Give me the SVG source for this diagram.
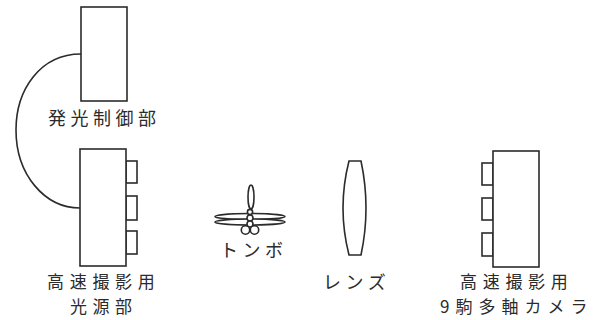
<svg xmlns="http://www.w3.org/2000/svg" width="601" height="320" viewBox="0 0 601 320">
  <style>
    .ln { fill: none; stroke: #2b2b2b; stroke-width: 1.6; }
    .bx { fill: #ffffff; stroke: #2b2b2b; stroke-width: 1.6; }
    .lb { font-family: "Noto Sans CJK JP", "Noto Sans", sans-serif; font-size: 18px; fill: #2b2b2b; letter-spacing: 4.5px; }
    .lb2 { font-family: "Noto Sans CJK JP", "Noto Sans", sans-serif; font-size: 17px; fill: #2b2b2b; letter-spacing: 5.7px; }
  </style>
  <rect width="601" height="320" fill="#ffffff"/>

  <!-- cable between controller and light source -->
  <g id="connectors">
    <path class="ln" d="M81,54 C40,54 16,90 16,130 C16,175 45,208 80,208"/>
  </g>

  <!-- emission controller -->
  <g id="controller">
    <rect class="bx" x="81" y="7" width="46" height="94"/>
    <text class="lb" x="48" y="125">発光制御部</text>
  </g>

  <!-- high-speed light source -->
  <g id="light-source">
    <rect class="bx" x="126" y="161" width="11" height="22"/>
    <rect class="bx" x="126" y="196" width="11" height="24"/>
    <rect class="bx" x="126" y="231" width="11" height="23"/>
    <rect class="bx" x="80" y="149" width="46" height="117"/>
    <text class="lb2"><tspan x="47" y="288">高速撮影用</tspan><tspan x="70" y="313" letter-spacing="5.5">光源部</tspan></text>
  </g>

  <!-- dragonfly -->
  <g id="dragonfly">
    <ellipse class="ln" cx="251" cy="197" rx="3" ry="12"/>
    <ellipse class="bx" cx="250" cy="216.5" rx="35" ry="3"/>
    <ellipse class="bx" cx="250" cy="222" rx="35" ry="3"/>
    <circle class="bx" cx="250" cy="212" r="2.6"/>
    <circle class="bx" cx="250" cy="218" r="3"/>
    <circle class="bx" cx="250" cy="224" r="3"/>
    <circle class="bx" cx="245.5" cy="230" r="4.2"/>
    <circle class="bx" cx="254.5" cy="230" r="4.2"/>
    <text class="lb" x="220" y="257">トンボ</text>
  </g>

  <!-- lens -->
  <g id="lens">
    <path class="ln" d="M349,161 L361,161 Q371,208 361,255 L349,255 Q337,208 349,161 Z"/>
    <text class="lb" x="323" y="289">レンズ</text>
  </g>

  <!-- 9-frame multi-axis high-speed camera -->
  <g id="camera">
    <rect class="bx" x="482" y="163" width="11" height="22"/>
    <rect class="bx" x="482" y="198" width="11" height="22"/>
    <rect class="bx" x="482" y="233" width="11" height="23"/>
    <rect class="bx" x="493" y="151" width="46" height="116"/>
    <text class="lb2"><tspan x="460" y="288">高速撮影用</tspan><tspan x="440" y="313" letter-spacing="6">9駒多軸カメラ</tspan></text>
  </g>
</svg>
